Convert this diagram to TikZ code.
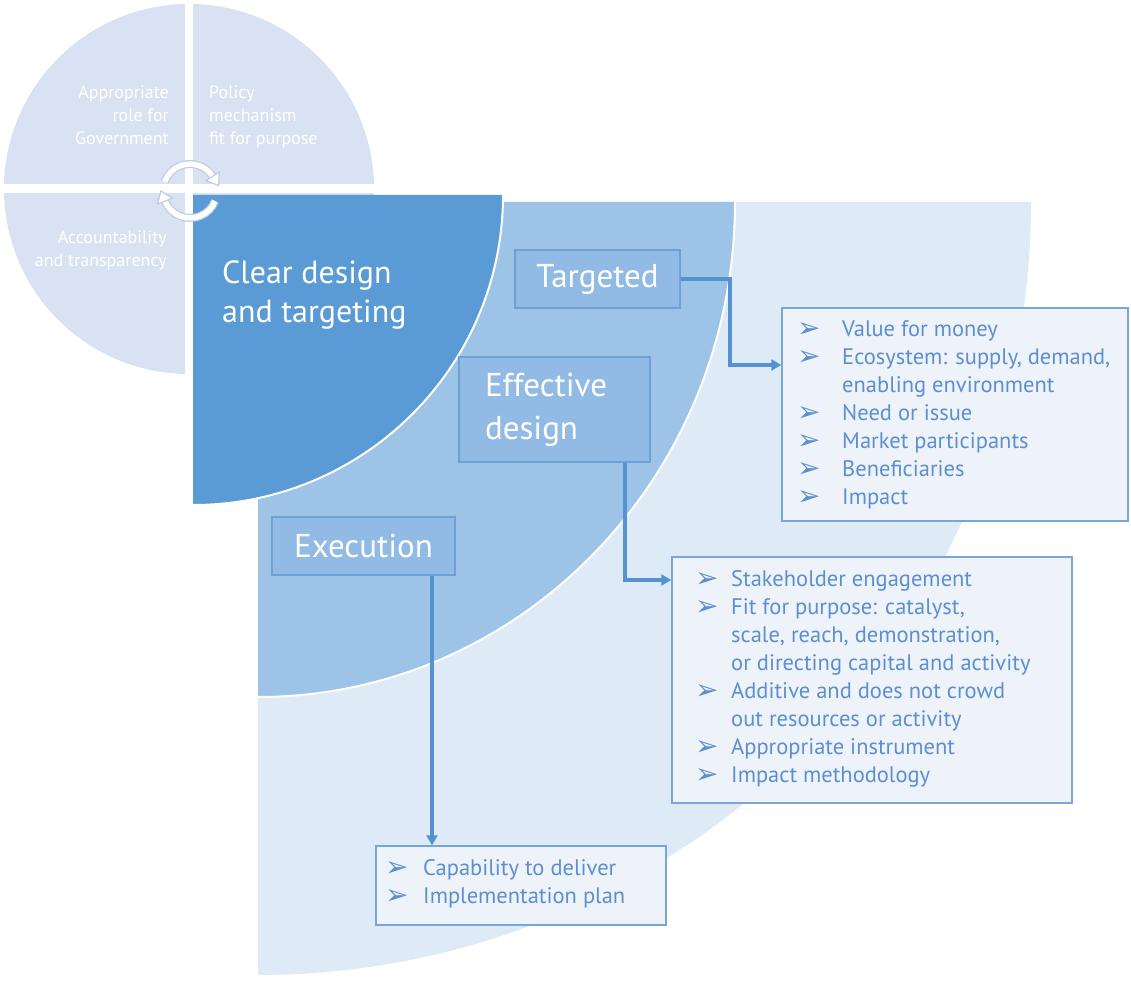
\documentclass[tikz,border=0pt]{standalone}
\usepackage{fontspec}
\setmainfont{PT Sans}
\newfontfamily\dv{DejaVu Sans}
\usetikzlibrary{arrows.meta,calc}
\definecolor{quad}{RGB}{217,226,242}
\definecolor{quadline}{RGB}{190,204,228}
\definecolor{dark}{RGB}{91,155,213}
\definecolor{medium}{RGB}{157,195,230}
\definecolor{light}{RGB}{222,234,246}
\definecolor{lboxfill}{RGB}{145,187,228}
\definecolor{lboxdraw}{RGB}{110,160,214}
\definecolor{listfill}{RGB}{238,243,250}
\definecolor{listdraw}{RGB}{120,166,216}
\definecolor{listtxt}{RGB}{92,143,206}
\definecolor{connc}{RGB}{84,146,210}
\newcommand\bul{{\dv\fontsize{28}{28}\selectfont\raisebox{-1pt}{➢}}}
\tikzset{
  lbox/.style={draw=lboxdraw, fill=lboxfill, line width=1.5pt, inner sep=0pt, text=white, font=\fontsize{33}{43}\selectfont},
  listbox/.style={draw=listdraw, fill=listfill, line width=1.5pt, inner sep=0pt},
  listtext/.style={anchor=north west, inner sep=0pt, text=listtxt, font=\fontsize{22.5}{28}\selectfont},
  conn/.style={draw=connc, line width=4pt, -{Triangle[length=10pt,width=11pt]}},
  qtext/.style={text=white, inner sep=0pt, font=\fontsize{18}{23}\selectfont},
  bigtext/.style={text=white, inner sep=0pt, font=\fontsize{32}{39}\selectfont},
  arrband/.style={line width=8pt, draw=quadline},
  arrcore/.style={line width=5.5pt, draw=white},
  arrhead/.style={fill=white, draw=quadline, line width=1.2pt, line join=round},
}
\begin{document}
\begin{tikzpicture}[x=1pt,y=1pt]
\useasboundingbox (0,0) rectangle (1131,983);
\fill[white] (0,0) rectangle (1131,983);
% light outer quarter
\fill[light] (258,781) -- (1031,781) arc[start angle=0, end angle=-90, radius=773] -- cycle;
% medium quarter
\fill[medium] (258,781) -- (735,781) arc[start angle=0, end angle=-90, x radius=477, y radius=495] -- cycle;
\draw[white, line width=2pt] (735,781) arc[start angle=0, end angle=-90, x radius=477, y radius=495];
% circle
\fill[quad] (189,794) circle[radius=185];
\fill[white] (185,600) rectangle (193,983);
\fill[white] (0,790) rectangle (380,799);
% dark quarter
\fill[dark] (193,788) -- (503,788) arc[start angle=0, end angle=-90, radius=310] -- cycle;
\draw[white, line width=2pt] (503,788) arc[start angle=0, end angle=-90, radius=310];
% circle texts
\node[qtext, anchor=base east, align=right] (q1) at (169,838) {Appropriate\\role for\\Government};
\node[qtext, anchor=base west, align=left] (q2) at (209,838) {Policy\\mechanism\\fit for purpose};
\node[qtext, anchor=base east, align=right] (q3) at (167,716) {Accountability\\and transparency};
\node[bigtext, anchor=base west, align=left] (q4) at (222,660) {Clear design\\and targeting};
% circular arrows
\coordinate (cc) at (190,792);
\draw[arrband] ($(cc)+(160:27)$) arc[start angle=160, end angle=33, radius=27];
\draw[arrband] ($(cc)+(-22:27)$) arc[start angle=-22, end angle=-158, radius=27];
\draw[arrcore] ($(cc)+(160:27)$) arc[start angle=160, end angle=33, radius=27];
\draw[arrcore] ($(cc)+(-22:27)$) arc[start angle=-22, end angle=-158, radius=27];
\filldraw[arrhead] ($(cc)+(33:19)$) -- ($(cc)+(33:35)$) -- ($(cc)+(33:27)+(-57:11)$) -- cycle;
\filldraw[arrhead] ($(cc)+(-158:19)$) -- ($(cc)+(-158:35)$) -- ($(cc)+(-158:27)+(112:11)$) -- cycle;
% label boxes
\node[lbox, minimum width=165pt, minimum height=58pt] (targ) at (597.5,704) {Targeted};
\node[lbox, minimum width=191pt, minimum height=105pt, align=left, text width=139pt] (eff) at (554.5,573.5) {Effective\\design};
\node[lbox, minimum width=183pt, minimum height=58pt] (exec) at (363.5,437) {Execution};
% list boxes
\node[listbox, minimum width=346pt, minimum height=213pt] (list1) at (955,568.5) {};
\node[listbox, minimum width=400pt, minimum height=246pt] (list2) at (872,303) {};
\node[listbox, minimum width=290pt, minimum height=79pt] (list3) at (521,97.5) {};
% connectors
\coordinate (bendT) at (730,618);
\coordinate (bendE) at (625,403);
\coordinate (exX) at (432,0);
\draw[conn] (targ.east) -| (bendT) -- (list1.west |- bendT);
\draw[conn] (eff.south -| bendE) -- (bendE) -- (list2.west |- bendE);
\draw[conn] (exec.south -| exX) -- (list3.north -| exX);
% list texts
\node[listtext] (t1) at (797,666.6) {\begin{tabular}{@{}p{45pt}@{}l@{}}
\bul & Value for money\\
\bul & Ecosystem: supply, demand,\\
 & enabling environment\\
\bul & Need or issue\\
\bul & Market participants\\
\bul & Beneficiaries\\
\bul & Impact
\end{tabular}};
\node[listtext] (t2) at (695,416.6) {\begin{tabular}{@{}p{36pt}@{}l@{}}
\bul & Stakeholder engagement\\
\bul & Fit for purpose: catalyst,\\
 & scale, reach, demonstration,\\
 & or directing capital and activity\\
\bul & Additive and does not crowd\\
 & out resources or activity\\
\bul & Appropriate instrument\\
\bul & Impact methodology
\end{tabular}};
\node[listtext] (t3) at (385,127.6) {\begin{tabular}{@{}p{38pt}@{}l@{}}
\bul & Capability to deliver\\
\bul & Implementation plan
\end{tabular}};
\end{tikzpicture}
\end{document}
